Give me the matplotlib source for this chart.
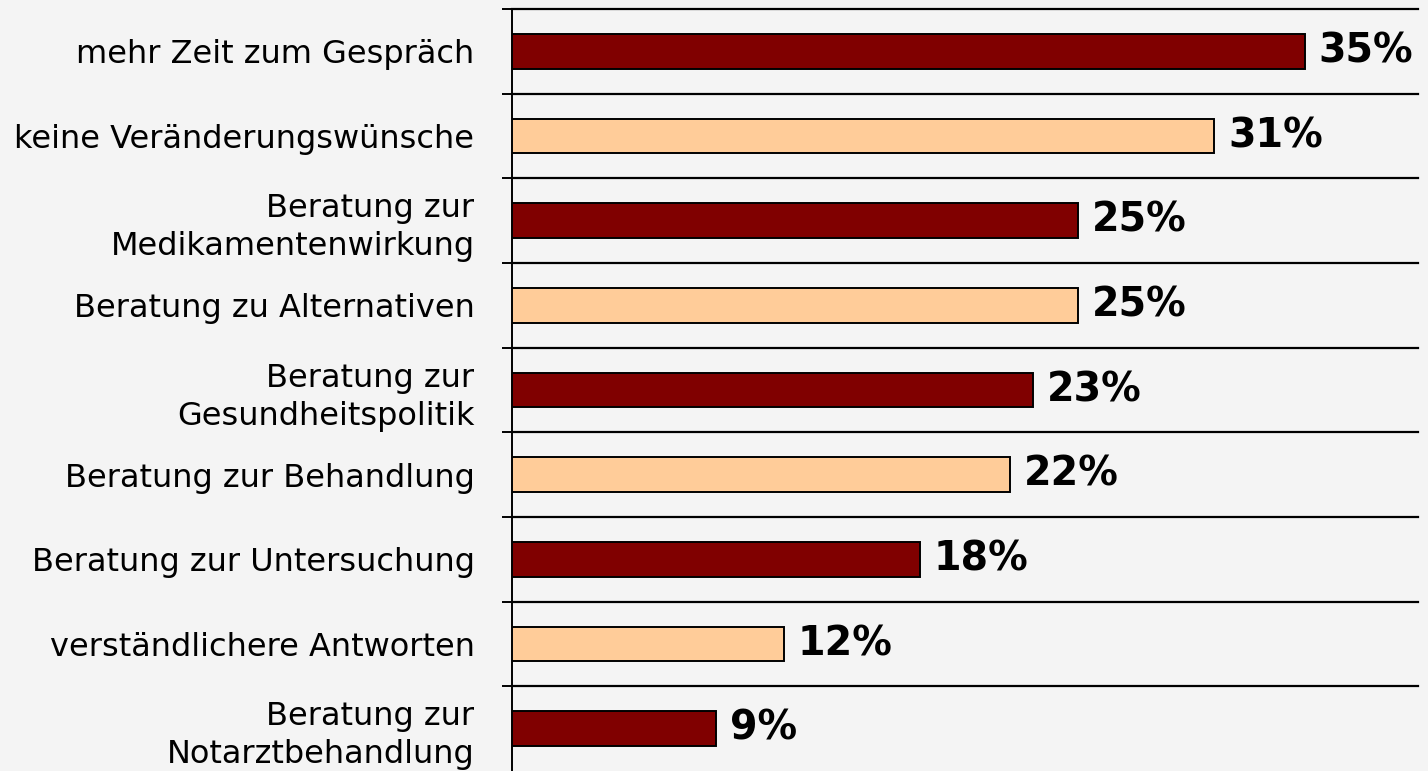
import matplotlib
matplotlib.use("Agg")
import matplotlib.pyplot as plt

categories = [
    "mehr Zeit zum Gespräch",
    "keine Veränderungswünsche",
    "Beratung zur\nMedikamentenwirkung",
    "Beratung zu Alternativen",
    "Beratung zur\nGesundheitspolitik",
    "Beratung zur Behandlung",
    "Beratung zur Untersuchung",
    "verständlichere Antworten",
    "Beratung zur\nNotarztbehandlung",
]
values = [35, 31, 25, 25, 23, 22, 18, 12, 9]
bar_colors = ["#800000", "#ffcc99"] * 5

bg = "#f4f4f4"


def main():
    fig = plt.figure(figsize=(14.28, 7.71), dpi=100, facecolor=bg)
    ax = fig.add_axes([512 / 1428, 0, 906 / 1428, 762 / 771], facecolor=bg)

    pos = list(range(len(categories)))
    ax.barh(pos, values, height=0.41, color=bar_colors[:len(values)],
            edgecolor="black", linewidth=1.4, zorder=3)

    for p, v in zip(pos, values):
        ax.annotate(f"{v}%", xy=(v, p), xytext=(10, 0), textcoords="offset points",
                    ha="left", va="center", fontsize=28.5, fontweight="bold",
                    color="black")

    # separators between categories
    for k in range(len(categories)):
        ax.axhline(k - 0.5, color="black", linewidth=1.6, clip_on=False, zorder=2)

    ax.set_xlim(0, 40)
    ax.set_ylim(len(categories) - 0.5, -0.5)

    ax.set_yticks(pos)
    ax.set_yticklabels(categories, fontsize=23, ha="right", linespacing=1.3)
    ax.tick_params(axis="y", which="major", length=0, pad=27)
    ax.set_yticks([k - 0.5 for k in range(len(categories))], minor=True)
    ax.tick_params(axis="y", which="minor", length=7.5, width=1.4, direction="out")
    ax.set_xticks([])

    for s in ["top", "right", "bottom"]:
        ax.spines[s].set_visible(False)
    ax.spines["left"].set_linewidth(1.4)

    fig.savefig("out.png", dpi=100, facecolor=bg)


if __name__ == "__main__":
    main()
